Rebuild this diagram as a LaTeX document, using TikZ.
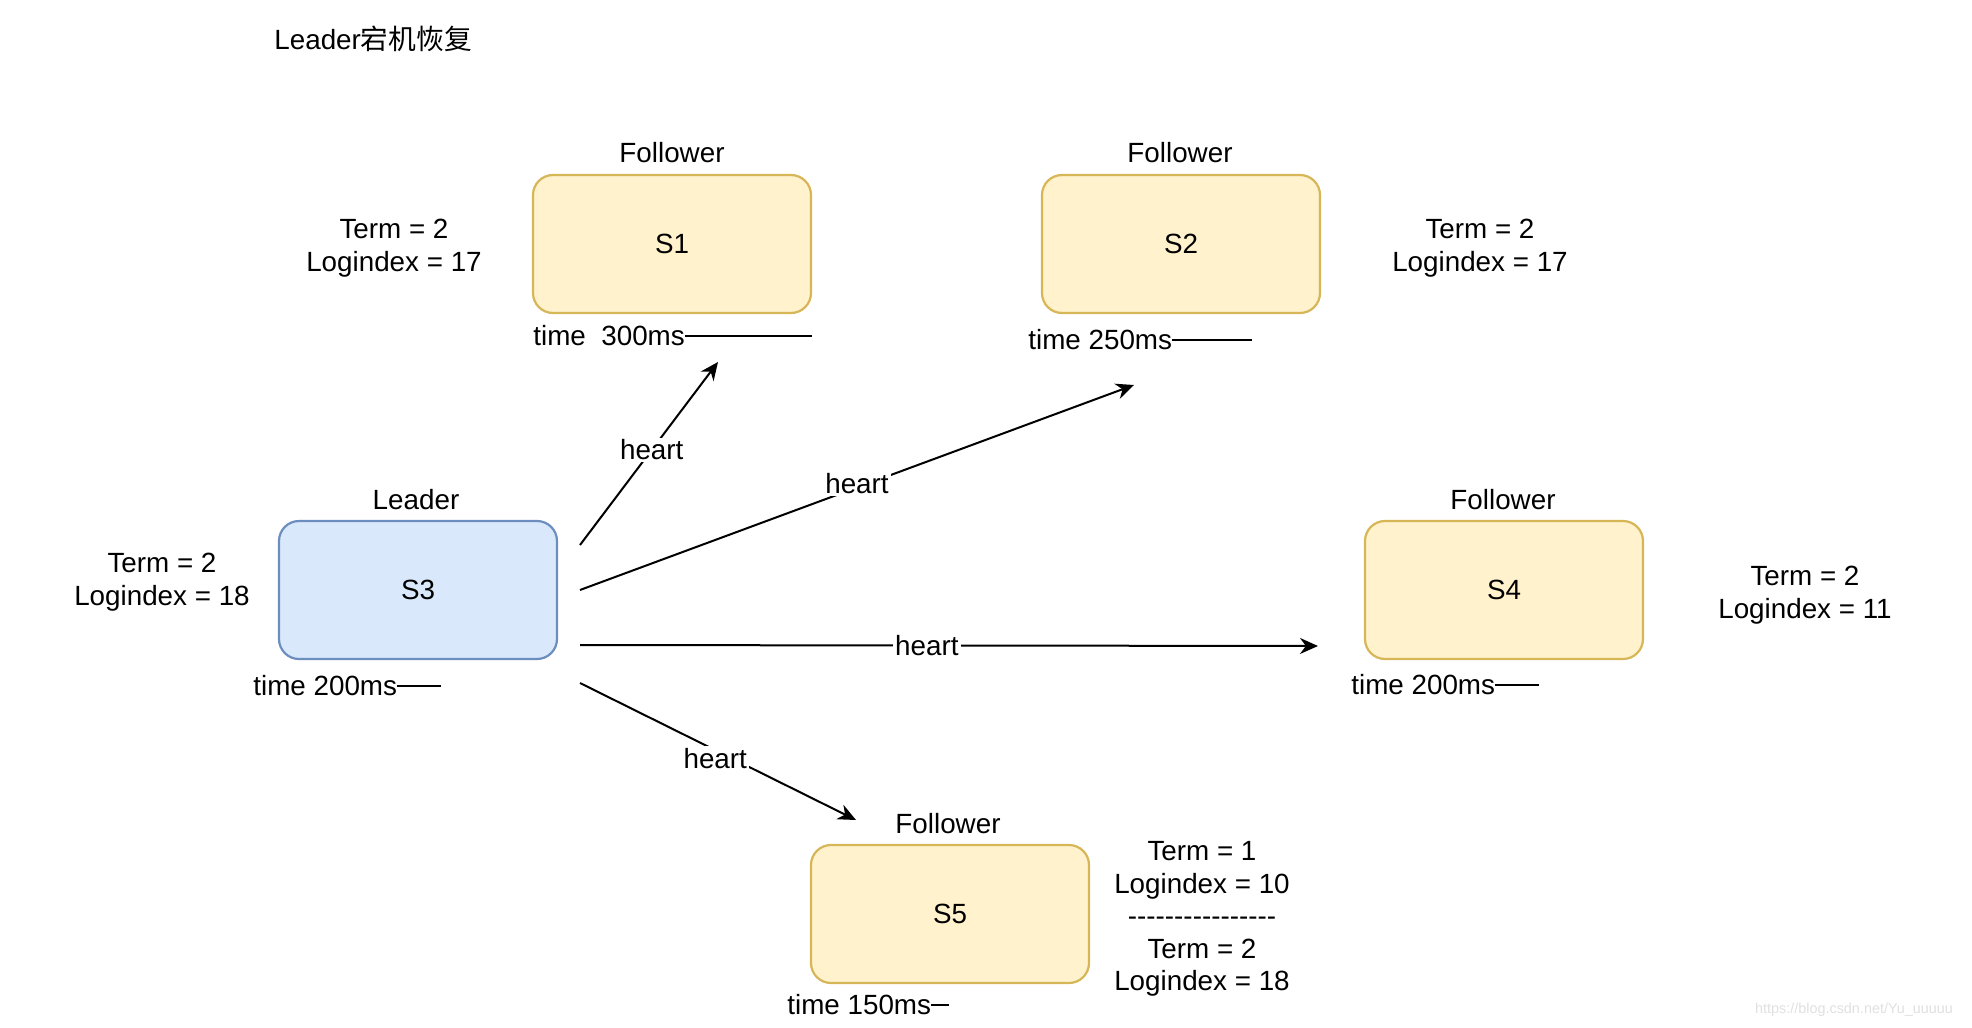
\documentclass[tikz,border=0pt]{standalone}
\usepackage{fontspec}
\setmainfont{Liberation Sans}
\newfontfamily\cjkfont{Noto Sans CJK SC}
\usetikzlibrary{arrows.meta}

\definecolor{followfill}{HTML}{FFF2CC}
\definecolor{followline}{HTML}{D6B656}
\definecolor{leadfill}{HTML}{DAE8FC}
\definecolor{leadline}{HTML}{6C8EBF}

\tikzset{
	server/.style={draw=followline, fill=followfill, line width=1.1pt, rounded corners=10pt, minimum width=139pt, minimum height=69pt, inner sep=0pt},
	leaderbox/.style={server, draw=leadline, fill=leadfill},
	txt/.style={align=center, inner sep=0pt},
	heartbeat/.style={line width=1pt, -{Stealth[length=9pt,width=8pt]}},
	lbl/.style={fill=white, inner sep=1pt},
	timeline/.style={line width=1pt},
}

\begin{document}
\fontsize{13.9pt}{16.2pt}\selectfont
\begin{tikzpicture}[x=0.5pt,y=0.5pt,yscale=-1,xscale=1]
	\useasboundingbox (0,0) rectangle (1972,1028);
	% title
	\node[txt, anchor=west] (title) at (274,39) {Leader{\cjkfont 宕机恢复}};
	% servers
	\node[server] (s1) at (672,244) {S1};
	\node[server] (s2) at (1181,244) {S2};
	\node[leaderbox] (s3) at (418,590) {S3};
	\node[server] (s4) at (1504,590) {S4};
	\node[server] (s5) at (950,914) {S5};
	% roles
	\node[txt] (r1) at (672,153) {Follower};
	\node[txt] (r2) at (1180,153) {Follower};
	\node[txt] (r3) at (416,500) {Leader};
	\node[txt] (r4) at (1503,500) {Follower};
	\node[txt] (r5) at (948,824) {Follower};
	% term / log index
	\node[txt] (t1) at (394,248) {Term = 2\\Logindex = 17};
	\node[txt] (t2) at (1480,248) {Term = 2\\Logindex = 17};
	\node[txt] (t3) at (162,582) {Term = 2\\Logindex = 18};
	\node[txt] (t4) at (1805,595) {Term = 2\\Logindex = 11};
	\node[txt] (t5) at (1202,919) {Term = 1\\Logindex = 10\\-{}-{}-{}-{}-{}-{}-{}-{}-{}-{}-{}-{}-{}-{}-{}-{}\\Term = 2\\Logindex = 18};
	% timeouts
	\node[txt, anchor=west] (k1) at (533,336) {time~~300ms};
	\draw[timeline] (k1.east) -- (k1.east -| s1.east);
	\node[txt, anchor=west] (k2) at (1028,340) {time 250ms};
	\draw[timeline] (k2.east) -- ++(80,0);
	\node[txt, anchor=west] (k3) at (253,686) {time 200ms};
	\draw[timeline] (k3.east) -- ++(44,0);
	\node[txt, anchor=west] (k4) at (1351,685) {time 200ms};
	\draw[timeline] (k4.east) -- ++(44,0);
	\node[txt, anchor=west] (k5) at (787,1005) {time 150ms};
	\draw[timeline] (k5.east) -- ++(18,0);
	% heartbeats
	\coordinate (a1) at (580,545); \coordinate (b1) at (718,362);
	\coordinate (a2) at (580,590); \coordinate (b2) at (1134,385);
	\coordinate (a3) at (580,645); \coordinate (b3) at (1318,646);
	\coordinate (a4) at (580,683); \coordinate (b4) at (856,820);
	\draw[heartbeat] (a1) -- node[lbl, pos=0.52] {heart} (b1);
	\draw[heartbeat] (a2) -- node[lbl, pos=0.5, yshift=2pt] {heart} (b2);
	\draw[heartbeat] (a3) -- node[lbl, pos=0.47] {heart} (b3);
	\draw[heartbeat] (a4) -- node[lbl, pos=0.49, yshift=-4pt] {heart} (b4);
	% watermark
	\node[txt, text=black!12, font=\fontsize{7.2pt}{8pt}\selectfont] (mark) at (1854,1010) {https://blog.csdn.net/Yu\_uuuuu};
\end{tikzpicture}
\end{document}
